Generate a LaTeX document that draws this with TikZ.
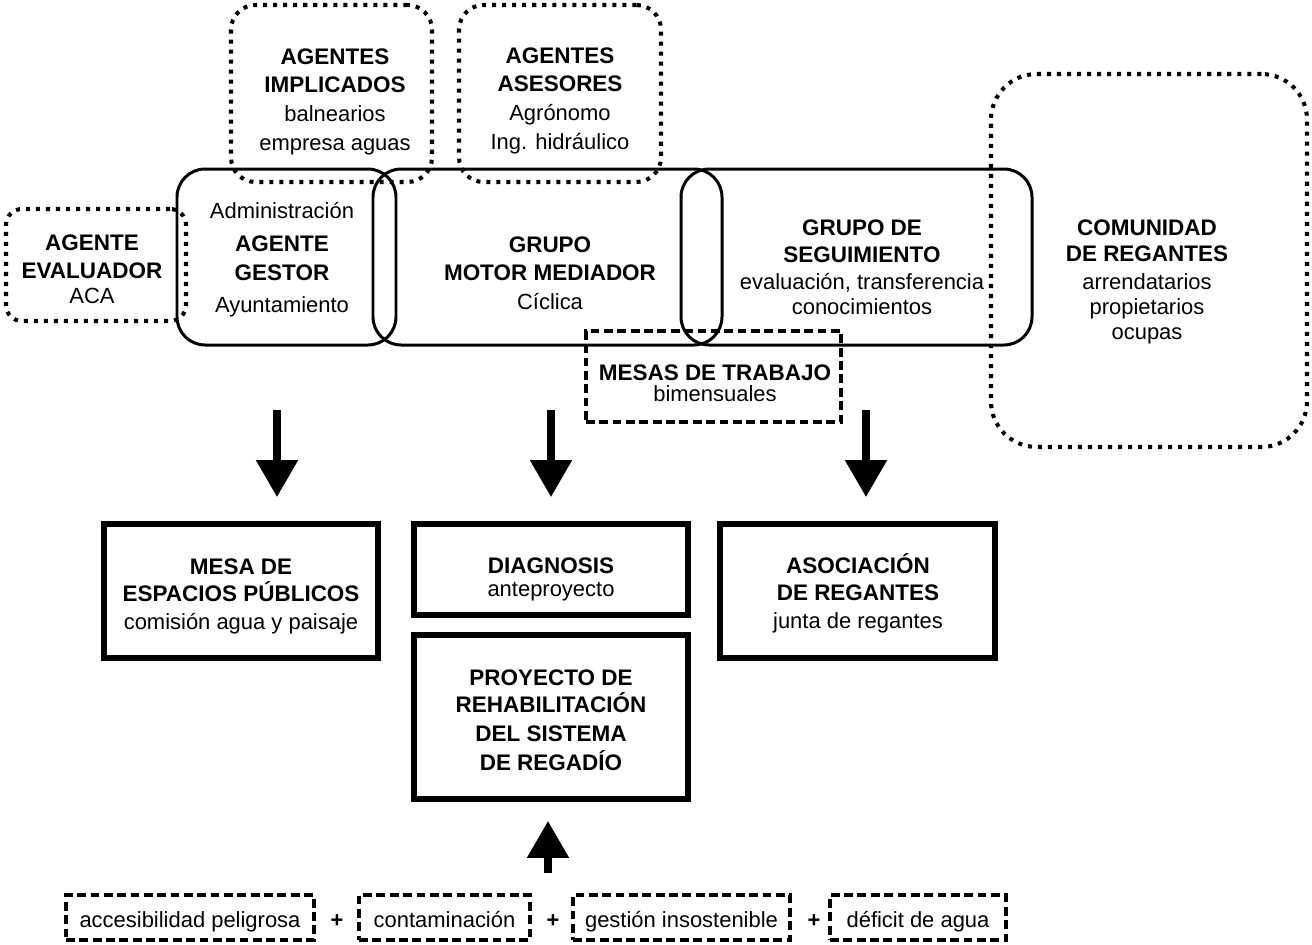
\documentclass[tikz,border=0pt]{standalone}
\usepackage{fontspec}
\setmainfont{Liberation Sans}
\usetikzlibrary{arrows.meta,fit}
\newcommand\stk[1]{\begin{tabular}[t]{@{}c@{}}#1\end{tabular}}
\newcommand\bb[1]{{\fontsize{12.8}{16.5}\selectfont\bfseries #1}}
\begin{document}
\begin{tikzpicture}[x=0.02cm,y=-0.02cm,
  tx/.style={inner sep=0pt, anchor=base, font=\fontsize{12.5}{16.5}\selectfont},
  roundbox/.style={draw, line width=1.7pt, rounded corners=16pt, inner sep=0pt},
  dotbox/.style={draw, line width=2.3pt, dash pattern=on 2.3pt off 3.4pt, inner sep=0pt},
  dashbox/.style={draw, line width=2.4pt, dash pattern=on 5pt off 2.6pt, inner sep=0pt},
  thickbox/.style={draw, line width=3.4pt, inner sep=0pt},
  bigarrow/.style={line width=4pt, -{Triangle[width=23pt,length=21pt]}},
  factor/.style={dashbox, font=\fontsize{12.5}{15}\selectfont, anchor=base, text height=18.1pt, text depth=7.4pt},
  plus/.style={inner sep=0pt, anchor=base, font=\fontsize{12.5}{15}\selectfont\bfseries}
]
\useasboundingbox (0,0) rectangle (1312,944);
\fill[white] (0,0) rectangle (1312,944);

% top shapes
\node[dotbox, rounded corners=14pt, fit={(231,5) (432,182)}] (impl) {};
\node[dotbox, rounded corners=14pt, fit={(459,5) (661,182)}] (ases) {};
\node[dotbox, rounded corners=9pt, fit={(6,209) (186,321)}] (eval) {};
\node[dotbox, rounded corners=26pt, fit={(991,74) (1307,447)}] (comu) {};
\node[roundbox, fit={(177,169) (396,345)}] (gestor) {};
\node[roundbox, fit={(373,169) (722,345)}] (motor) {};
\node[roundbox, fit={(681,169) (1032,345)}] (segui) {};
\node[dashbox, fit={(586,331) (841,422)}] (mesas) {};

% top texts
\node[tx] (tImpl) at (335,64) {\stk{\bb{AGENTES}\\ \bb{IMPLICADOS}\\ balnearios\\ empresa aguas}};
\node[tx] (tAses) at (560,63) {\stk{\bb{AGENTES}\\ \bb{ASESORES}\\ Agrónomo\\ Ing. hidráulico}};
\node[tx] (tEval) at (92,250) {\stk{\bb{AGENTE}\\ \bb{EVALUADOR}\\[-2.8pt] ACA}};
\node[tx] (tGest) at (282,218) {\stk{Administración\\[2.8pt] \bb{AGENTE}\\ \bb{GESTOR}\\[1.7pt] Ayuntamiento}};
\node[tx] (tMotor) at (550,252) {\stk{\bb{GRUPO}\\ \bb{MOTOR MEDIADOR}\\ Cíclica}};
\node[tx] (tSegui) at (862,235) {\stk{\bb{GRUPO DE}\\[-0.6pt] \bb{SEGUIMIENTO}\\[-1.2pt] evaluación, transferencia\\[-2.3pt] conocimientos}};
\node[tx] (tComu) at (1147,235) {\stk{\bb{COMUNIDAD}\\[-1.2pt] \bb{DE REGANTES}\\[-0.6pt] arrendatarios\\[-2.3pt] propietarios\\[-2.3pt] ocupas}};
\node[tx] (tMesas) at (715,380) {\stk{\bb{MESAS DE TRABAJO}\\[-4pt] bimensuales}};

% arrows
\coordinate (a1s) at (277,410); \coordinate (a1e) at (277,497);
\coordinate (a2s) at (551,410); \coordinate (a2e) at (551,497);
\coordinate (a3s) at (866,410); \coordinate (a3e) at (866,497);
\draw[bigarrow] (a1s) -- (a1e);
\draw[bigarrow] (a2s) -- (a2e);
\draw[bigarrow] (a3s) -- (a3e);

% bottom boxes
\node[thickbox, fit={(104,524) (378,658)}] (mesaesp) {};
\node[thickbox, fit={(414,524) (688,615)}] (diag) {};
\node[thickbox, fit={(720,524) (995,658)}] (asoc) {};
\node[thickbox, fit={(414,635) (688,799)}] (proy) {};

\node[tx] (tMesaEsp) at (241,574) {\stk{\bb{MESA DE}\\[-0.6pt] \bb{ESPACIOS PÚBLICOS}\\[-0.6pt] comisión agua y paisaje}};
\node[tx] (tDiag) at (551,573) {\stk{\bb{DIAGNOSIS}\\[-2.9pt] anteproyecto}};
\node[tx] (tAsoc) at (858,573) {\stk{\bb{ASOCIACIÓN}\\[-0.6pt] \bb{DE REGANTES}\\[-0.6pt] junta de regantes}};
\node[tx] (tProy) at (551,685) {\stk{\bb{PROYECTO DE}\\[-0.6pt] \bb{REHABILITACIÓN}\\ \bb{DEL SISTEMA}\\ \bb{DE REGADÍO}}};

% up arrow
\coordinate (u1s) at (548,873); \coordinate (u1e) at (548,821);
\draw[bigarrow] (u1s) -- (u1e);

% factors
\node[factor, minimum width=4.96cm] (f1) at (190,927) {accesibilidad peligrosa};
\node[plus] (p1) at (337,927) {+};
\node[factor, minimum width=3.42cm] (f2) at (444.5,927) {contaminación};
\node[plus] (p2) at (553,927) {+};
\node[factor, minimum width=4.34cm] (f3) at (681.5,927) {gestión insostenible};
\node[plus] (p3) at (814,927) {+};
\node[factor, minimum width=3.52cm] (f4) at (918,927) {déficit de agua};
\end{tikzpicture}
\end{document}
